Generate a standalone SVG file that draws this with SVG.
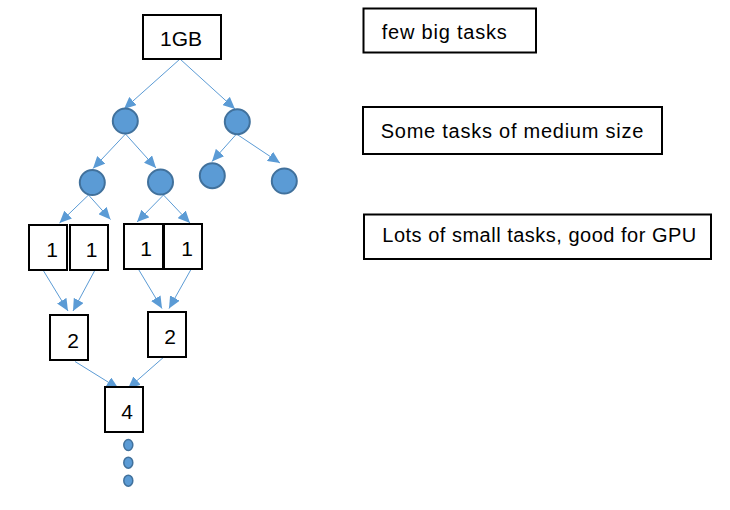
<svg xmlns="http://www.w3.org/2000/svg" width="730" height="510" viewBox="0 0 730 510">
<style>
.box{fill:#fff;stroke:#000;stroke-width:2}
.c{fill:#5B9BD5;stroke:#41719C;stroke-width:2}
.d{fill:#5B9BD5;stroke:#41719C;stroke-width:1.5}
.e{stroke:#5B9BD5;stroke-width:1;fill:none;marker-end:url(#ah)}
.t{font-family:"Liberation Sans",Arial,sans-serif;fill:#000}
.n{font-size:21px;text-anchor:middle}
.l{font-size:20px}
</style>
<defs>
<marker id="ah" markerUnits="userSpaceOnUse" markerWidth="13" markerHeight="11" refX="12" refY="5.5" orient="auto">
<path d="M0,0 L12,5.5 L0,11 z" fill="#5B9BD5"/>
</marker>
</defs>
<rect width="730" height="510" fill="#fff"/>
<g id="connectors">
<line class="e" x1="180" y1="59" x2="124" y2="109"/>
<line class="e" x1="180" y1="59" x2="235" y2="109"/>
<line class="e" x1="125.5" y1="134" x2="93" y2="168.5"/>
<line class="e" x1="125.5" y1="134" x2="156" y2="168"/>
<line class="e" x1="236.5" y1="134" x2="212" y2="161.5"/>
<line class="e" x1="236.5" y1="134" x2="280" y2="163"/>
<line class="e" x1="88.5" y1="195" x2="59.5" y2="223"/>
<line class="e" x1="88.5" y1="195" x2="110.5" y2="219.5"/>
<line class="e" x1="163.5" y1="195" x2="137" y2="222"/>
<line class="e" x1="163.5" y1="195" x2="190" y2="223"/>
<line class="e" x1="43" y1="270" x2="68" y2="311"/>
<line class="e" x1="95" y1="270" x2="73" y2="311"/>
<line class="e" x1="138" y1="268.5" x2="162" y2="308.5"/>
<line class="e" x1="191.5" y1="268.5" x2="169" y2="308.5"/>
<line class="e" x1="75" y1="361.5" x2="118.5" y2="388.5"/>
<line class="e" x1="165" y1="356" x2="128" y2="388.5"/>
</g>
<g id="root"><rect class="box" x="143" y="15" width="78" height="44"/><text class="t n" x="181" y="45.5" font-size="20">1GB</text></g>
<g id="m1"><circle class="c" cx="125.3" cy="121" r="12.5"/></g>
<g id="m2"><circle class="c" cx="237.3" cy="121.7" r="12.5"/></g>
<g id="s1"><circle class="c" cx="92.3" cy="182.5" r="12.5"/></g>
<g id="s2"><circle class="c" cx="160.5" cy="182" r="12.5"/></g>
<g id="s3"><circle class="c" cx="212.3" cy="175.7" r="12.5"/></g>
<g id="s4"><circle class="c" cx="284.3" cy="181" r="12.5"/></g>
<g id="b1"><rect class="box" x="29" y="225" width="38" height="45"/><text class="t n" x="52" y="256.7">1</text></g>
<g id="b2"><rect class="box" x="70" y="225" width="38" height="45"/><text class="t n" x="91.7" y="256.7">1</text></g>
<g id="b3"><rect class="box" x="124" y="224" width="39" height="45"/><text class="t n" x="146" y="255.7">1</text></g>
<g id="b4"><rect class="box" x="164" y="224" width="38" height="45"/><text class="t n" x="187" y="255.7">1</text></g>
<g id="c1"><rect class="box" x="50" y="315" width="38" height="45"/><text class="t n" x="73" y="347.7">2</text></g>
<g id="c2"><rect class="box" x="148" y="312" width="38" height="45"/><text class="t n" x="170" y="343.5">2</text></g>
<g id="f4"><rect class="box" x="105" y="387" width="38" height="45"/><text class="t n" x="127" y="419">4</text></g>
<g id="dots">
<ellipse class="d" cx="128.3" cy="445" rx="4.5" ry="5.5"/>
<ellipse class="d" cx="128.3" cy="462.7" rx="4.5" ry="5.5"/>
<ellipse class="d" cx="128.3" cy="480.7" rx="4.5" ry="5.5"/>
</g>
<g id="lab1"><rect class="box" x="363.5" y="8.5" width="172.5" height="44"/><text class="t l" x="381.7" y="39" textLength="125" lengthAdjust="spacing">few big tasks</text></g>
<g id="lab2"><rect class="box" x="363" y="107" width="299" height="47"/><text class="t l" x="380.7" y="138.3" textLength="262.6" lengthAdjust="spacing">Some tasks of medium size</text></g>
<g id="lab3"><rect class="box" x="364" y="214.5" width="347" height="44.5"/><text class="t l" x="382.3" y="242.3" textLength="314" lengthAdjust="spacing">Lots of small tasks, good for GPU</text></g>
</svg>
